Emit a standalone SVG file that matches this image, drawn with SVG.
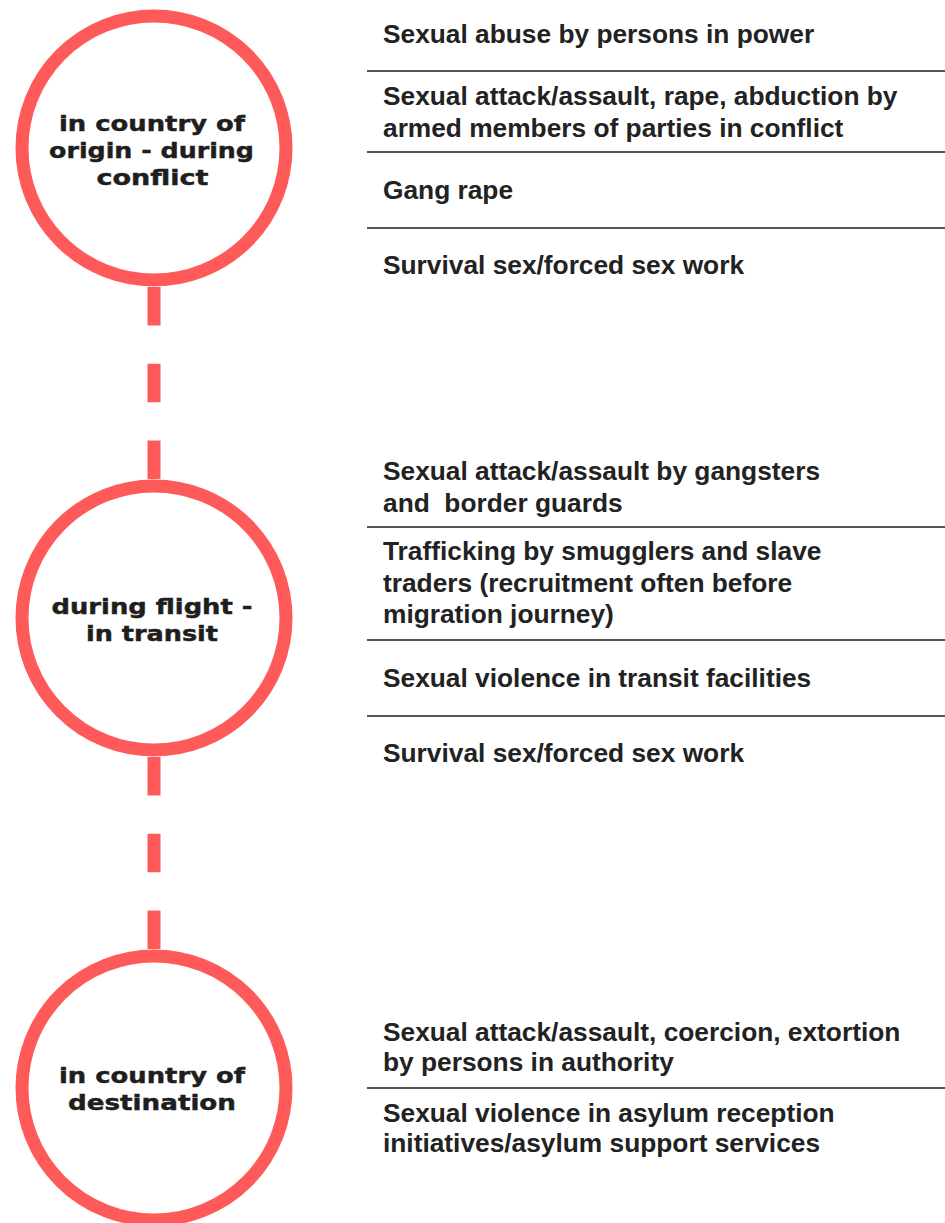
<svg xmlns="http://www.w3.org/2000/svg" width="945" height="1223" viewBox="0 0 945 1223">
<style>
.stage{fill:#fff;stroke:#FF5A5A;stroke-width:13}
.stxt{font-family:"DejaVu Sans",sans-serif;font-weight:bold;font-size:22px;fill:#1e1e1e;stroke:#1e1e1e;stroke-width:0.45;text-anchor:middle}
.item{font-family:"Liberation Sans",Arial,sans-serif;font-weight:bold;font-size:26.3px;fill:#222}
.sep{stroke:#555;stroke-width:2}
.conn{stroke:#FF5A5A;stroke-width:13;stroke-dasharray:38.4 38.4}
</style>
<rect width="945" height="1223" fill="#fff"/>
<g id="connectors">
<line class="conn" x1="154" y1="287" x2="154" y2="479"/>
<line class="conn" x1="154" y1="757" x2="154" y2="949"/>
</g>
<g id="stage-origin">
<circle class="stage" cx="154" cy="148" r="132"/>
<text class="stxt" x="152" y="131" textLength="186" lengthAdjust="spacingAndGlyphs">in country of</text>
<text class="stxt" x="151.5" y="158" textLength="205" lengthAdjust="spacingAndGlyphs">origin - during</text>
<text class="stxt" x="152.5" y="185" textLength="112" lengthAdjust="spacingAndGlyphs">conflict</text>
</g>
<g id="stage-transit">
<circle class="stage" cx="154" cy="618" r="132"/>
<text class="stxt" x="152" y="614" textLength="201" lengthAdjust="spacingAndGlyphs">during flight -</text>
<text class="stxt" x="152" y="641" textLength="132" lengthAdjust="spacingAndGlyphs">in transit</text>
</g>
<g id="stage-destination">
<circle class="stage" cx="154" cy="1088" r="132"/>
<text class="stxt" x="152" y="1083" textLength="186" lengthAdjust="spacingAndGlyphs">in country of</text>
<text class="stxt" x="152" y="1110" textLength="168" lengthAdjust="spacingAndGlyphs">destination</text>
</g>
<g id="list-origin">
<text class="item" x="383" y="43">Sexual abuse by persons in power</text>
<line class="sep" x1="367" y1="71" x2="945" y2="71"/>
<text class="item" x="383" y="105">Sexual attack/assault, rape, abduction by</text>
<text class="item" x="383" y="137">armed members of parties in conflict</text>
<line class="sep" x1="367" y1="152" x2="945" y2="152"/>
<text class="item" x="383" y="199">Gang rape</text>
<line class="sep" x1="367" y1="228" x2="945" y2="228"/>
<text class="item" x="383" y="274">Survival sex/forced sex work</text>
</g>
<g id="list-transit">
<text class="item" x="383" y="480">Sexual attack/assault by gangsters</text>
<text class="item" x="383" y="512" xml:space="preserve">and  border guards</text>
<line class="sep" x1="367" y1="527" x2="945" y2="527"/>
<text class="item" x="383" y="560">Trafficking by smugglers and slave</text>
<text class="item" x="383" y="592">traders (recruitment often before</text>
<text class="item" x="383" y="623">migration journey)</text>
<line class="sep" x1="367" y1="640" x2="945" y2="640"/>
<text class="item" x="383" y="687">Sexual violence in transit facilities</text>
<line class="sep" x1="367" y1="716" x2="945" y2="716"/>
<text class="item" x="383" y="762">Survival sex/forced sex work</text>
</g>
<g id="list-destination">
<text class="item" x="383" y="1041">Sexual attack/assault, coercion, extortion</text>
<text class="item" x="383" y="1071">by persons in authority</text>
<line class="sep" x1="367" y1="1088" x2="945" y2="1088"/>
<text class="item" x="383" y="1122">Sexual violence in asylum reception</text>
<text class="item" x="383" y="1152">initiatives/asylum support services</text>
</g>
</svg>
